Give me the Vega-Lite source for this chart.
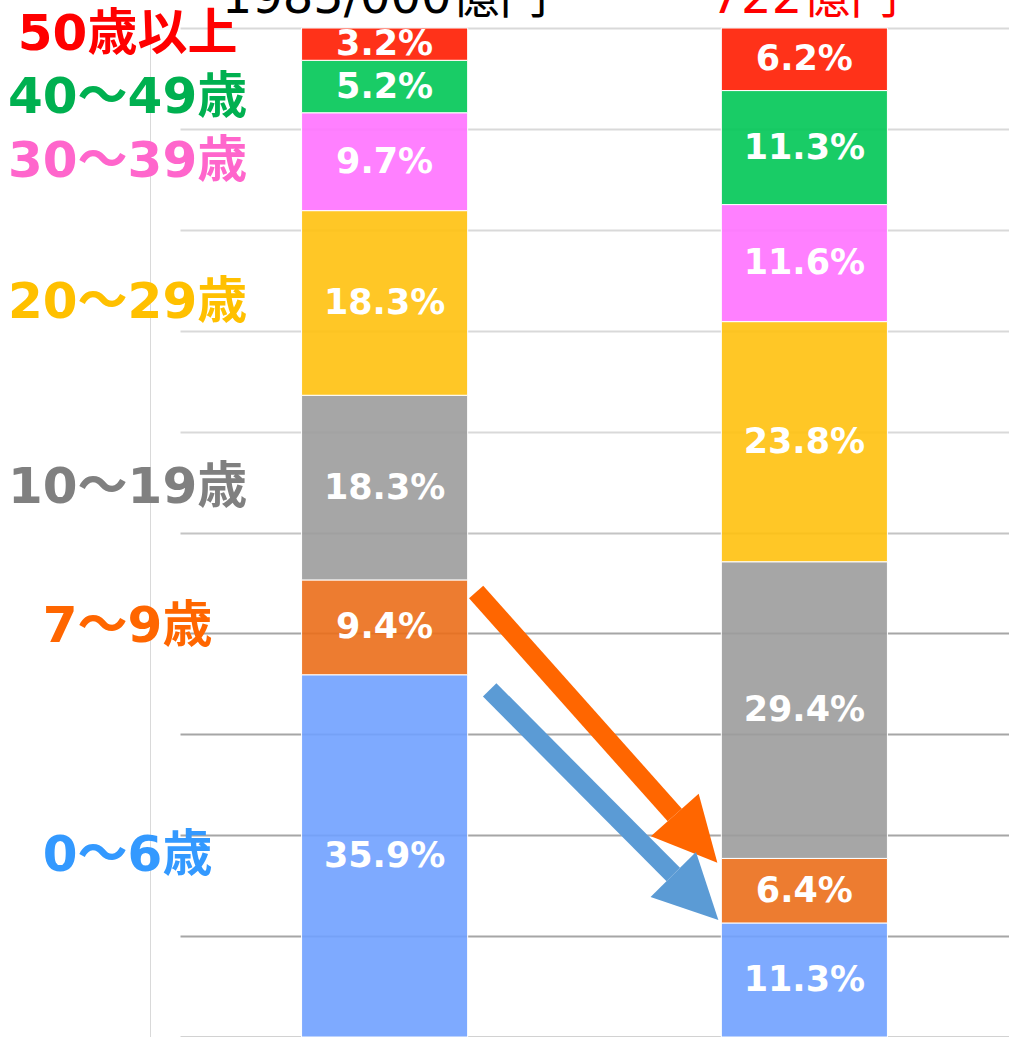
{
  "$schema": "https://vega.github.io/schema/vega-lite/v6.json",
  "width": 829,
  "height": 1009,
  "autosize": {"type": "none"},
  "padding": {"left": 180, "top": 28, "right": 0, "bottom": 0},
  "background": "white",
  "config": {"view": {"stroke": null}, "font": "DejaVu Sans"},
  "datasets": {
    "shares": [
      {"period": "1985/000億円", "age": "0～6歳", "idx": 0, "share": 0.359},
      {"period": "1985/000億円", "age": "7～9歳", "idx": 1, "share": 0.094},
      {"period": "1985/000億円", "age": "10～19歳", "idx": 2, "share": 0.183},
      {"period": "1985/000億円", "age": "20～29歳", "idx": 3, "share": 0.183},
      {"period": "1985/000億円", "age": "30～39歳", "idx": 4, "share": 0.097},
      {"period": "1985/000億円", "age": "40～49歳", "idx": 5, "share": 0.052},
      {"period": "1985/000億円", "age": "50歳以上", "idx": 6, "share": 0.032},
      {"period": "722億円", "age": "0～6歳", "idx": 0, "share": 0.113},
      {"period": "722億円", "age": "7～9歳", "idx": 1, "share": 0.064},
      {"period": "722億円", "age": "10～19歳", "idx": 2, "share": 0.294},
      {"period": "722億円", "age": "20～29歳", "idx": 3, "share": 0.238},
      {"period": "722億円", "age": "30～39歳", "idx": 4, "share": 0.116},
      {"period": "722億円", "age": "40～49歳", "idx": 5, "share": 0.113},
      {"period": "722億円", "age": "50歳以上", "idx": 6, "share": 0.062}
    ],
    "arrows": [
      {"arrow": "orange", "x1": 0.2181, "y1": 0.441, "x2": 0.6913, "y2": 0.220},
      {"arrow": "blue", "x1": 0.2503, "y1": 0.344, "x2": 0.6877, "y2": 0.161}
    ]
  },
  "layer": [
    {
      "data": {"name": "shares"},
      "layer": [
        {
          "mark": {"type": "bar", "stroke": "white", "strokeWidth": 1, "fillOpacity": 0.9},
          "encoding": {
            "x": {"field": "period", "type": "nominal", "sort": ["1985/000億円", "722億円"], "scale": {"paddingInner": 0.6043, "paddingOuter": 0.2896}, "axis": null},
            "y": {
              "field": "share", "type": "quantitative", "stack": "zero", "title": null,
              "scale": {"domain": [0, 1], "nice": false, "zero": true},
              "axis": {
                "title": null, "labels": false, "ticks": false,
                "domain": true, "domainColor": "#d9d9d9", "domainWidth": 1, "offset": 30,
                "grid": true, "gridWidth": 2,
                "gridColor": {"condition": [{"test": "datum.value >= 0.55", "value": "#d9d9d9"}, {"test": "datum.value >= 0.45", "value": "#c4c4c4"}], "value": "#a6a6a6"},
                "values": [0, 0.1, 0.2, 0.3, 0.4, 0.5, 0.6, 0.7, 0.8, 0.9, 1]
              }
            },
            "color": {
              "field": "age", "type": "nominal", "legend": null,
              "scale": {
                "domain": ["0～6歳", "7～9歳", "10～19歳", "20～29歳", "30～39歳", "40～49歳", "50歳以上"],
                "range": ["#70a1ff", "#eb6e1a", "#9c9c9c", "#ffc10e", "#ff72ff", "#00c655", "#ff1c00"]
              }
            },
            "order": {"field": "idx", "type": "quantitative"}
          }
        },
        {
          "transform": [
            {"stack": "share", "groupby": ["period"], "sort": [{"field": "idx", "order": "ascending"}], "as": ["s0", "s1"]},
            {"fold": ["s0", "s1"], "as": ["edge", "pos"]}
          ],
          "mark": {"type": "text", "color": "white", "fontSize": 35, "fontWeight": "bold", "font": "DejaVu Sans", "baseline": "middle", "align": "center"},
          "encoding": {
            "x": {"field": "period", "type": "nominal", "sort": ["1985/000億円", "722億円"]},
            "y": {"field": "pos", "type": "quantitative", "aggregate": "mean", "stack": null, "title": null},
            "text": {"field": "share", "type": "quantitative", "aggregate": "max", "format": ".1%"},
            "detail": {"field": "age", "type": "nominal"}
          }
        },
        {
          "transform": [
            {"filter": "datum.period === '1985/000億円'"},
            {"stack": "share", "groupby": ["period"], "sort": [{"field": "idx", "order": "ascending"}], "as": ["s0", "s1"]},
            {"fold": ["s0", "s1"], "as": ["edge", "pos"]}
          ],
          "mark": {
            "type": "text", "fontSize": 50, "fontWeight": "bold", "font": "DejaVu Sans, Noto Sans CJK JP",
            "baseline": "middle", "align": "center", "dx": -257,
            "dy": {"expr": "datum.age === '50歳以上' ? -9 : (datum.age === '40～49歳' ? 11 : 0)"}
          },
          "encoding": {
            "x": {"field": "period", "type": "nominal", "sort": ["1985/000億円", "722億円"]},
            "y": {"field": "pos", "type": "quantitative", "aggregate": "mean", "stack": null, "title": null},
            "text": {"field": "age", "type": "nominal"},
            "fill": {
              "field": "age", "type": "nominal", "legend": null,
              "scale": {
                "domain": ["0～6歳", "7～9歳", "10～19歳", "20～29歳", "30～39歳", "40～49歳", "50歳以上"],
                "range": ["#3399ff", "#ff6600", "#808080", "#ffc000", "#ff66cc", "#00b050", "#ff0000"]
              }
            }
          }
        },
        {
          "transform": [{"filter": "datum.idx === 0"}],
          "mark": {"type": "text", "fontSize": 48, "font": "DejaVu Sans, Noto Sans CJK JP", "baseline": "alphabetic", "align": "center", "dy": -15},
          "encoding": {
            "x": {"field": "period", "type": "nominal", "sort": ["1985/000億円", "722億円"]},
            "y": {"datum": 1},
            "text": {"field": "period", "type": "nominal"},
            "color": {"condition": {"test": "datum.period === '722億円'", "value": "#ff0000"}, "value": "#000000"}
          }
        }
      ]
    },
    {
      "data": {"name": "arrows"},
      "layer": [
        {
          "mark": {"type": "rule", "strokeWidth": 19, "strokeCap": "butt"},
          "encoding": {
            "x": {"field": "x1", "type": "quantitative", "scale": {"domain": [-0.4874, 1.4875], "nice": false, "zero": false}, "axis": null},
            "x2": {"field": "x2"},
            "y": {"field": "y1", "type": "quantitative", "title": null},
            "y2": {"field": "y2"},
            "color": {"condition": {"test": "datum.arrow === 'orange'", "value": "#ff6600"}, "value": "#5b9bd5"}
          }
        },
        {
          "transform": [{"filter": "datum.arrow === 'orange'"}],
          "mark": {"type": "point", "shape": "M-1,0L1,0L0,-2Z", "size": 4096, "filled": true, "color": "#ff6600", "opacity": 1, "strokeWidth": 0, "angle": 138.3},
          "encoding": {
            "x": {"field": "x2", "type": "quantitative", "scale": {"domain": [-0.4874, 1.4875], "nice": false, "zero": false}, "axis": null},
            "y": {"field": "y2", "type": "quantitative", "title": null}
          }
        },
        {
          "transform": [{"filter": "datum.arrow === 'blue'"}],
          "mark": {"type": "point", "shape": "M-1,0L1,0L0,-2Z", "size": 4096, "filled": true, "color": "#5b9bd5", "opacity": 1, "strokeWidth": 0, "angle": 135.2},
          "encoding": {
            "x": {"field": "x2", "type": "quantitative", "scale": {"domain": [-0.4874, 1.4875], "nice": false, "zero": false}, "axis": null},
            "y": {"field": "y2", "type": "quantitative", "title": null}
          }
        }
      ]
    }
  ],
  "resolve": {"scale": {"x": "independent"}}
}
